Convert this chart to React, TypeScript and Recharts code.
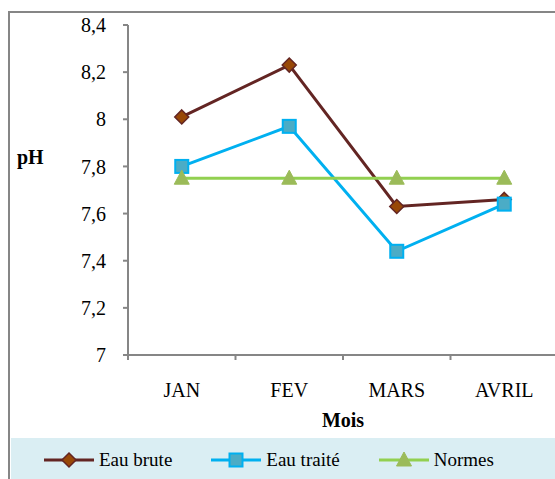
import { LineChart, Line, XAxis, YAxis, Legend } from 'recharts'

const months = ['JAN', 'FEV', 'MARS', 'AVRIL']
const eauBrute = [8.01, 8.23, 7.63, 7.66]
const eauTraite = [7.8, 7.97, 7.44, 7.64]
const normes = [7.75, 7.75, 7.75, 7.75]
const yTicks = [7, 7.2, 7.4, 7.6, 7.8, 8, 8.2, 8.4]

const data = months.map((m, i) => ({
  month: m,
  brute: eauBrute[i],
  traite: eauTraite[i],
  normes: normes[i],
}))

const W = 570
const H = 479
const LEFT = 128
const RIGHT = 12
const FONT = "Liberation Serif, DejaVu Serif, serif"
const AXIS = '#868686'
const HALF = (W - LEFT - RIGHT) / months.length / 2

const series = [
  { key: 'brute', name: 'Eau brute', color: '#632523', shape: 'diamond' },
  { key: 'traite', name: 'Eau traité', color: '#00B0F0', shape: 'square' },
  { key: 'normes', name: 'Normes', color: '#92D050', shape: 'triangle' },
]

function Marker({ cx, cy, shape }: { cx: number; cy: number; shape: string }) {
  if (shape === 'diamond')
    return (
      <polygon
        points={`${cx},${cy - 7} ${cx + 7},${cy} ${cx},${cy + 7} ${cx - 7},${cy}`}
        fill="#984807"
        stroke="#632523"
        strokeWidth={1.5}
      />
    )
  if (shape === 'square')
    return (
      <rect x={cx - 6.5} y={cy - 6.5} width={13} height={13} fill="#4BACC6" stroke="#00B0F0" strokeWidth={2} />
    )
  return (
    <polygon
      points={`${cx},${cy - 8} ${cx + 7.5},${cy + 6} ${cx - 7.5},${cy + 6}`}
      fill="#9BBB59"
      stroke="#9BBB59"
      strokeWidth={1}
    />
  )
}

function XTick(props: any) {
  const { x, y, payload, index } = props
  return (
    <g>
      <line x1={x - HALF} y1={y - 8} x2={x - HALF} y2={y - 3} stroke={AXIS} strokeWidth={2} />
      {index === months.length - 1 && (
        <line x1={x + HALF} y1={y - 8} x2={x + HALF} y2={y - 3} stroke={AXIS} strokeWidth={2} />
      )}
      <text x={x} y={y + 34} textAnchor="middle" fontSize={20} style={{ fontFamily: FONT }} fill="#000">
        {payload.value}
      </text>
    </g>
  )
}

function LegendBox() {
  return (
    <div style={{ display: 'flex', alignItems: 'center', height: 41, paddingLeft: 33, paddingTop: 2, boxSizing: 'border-box', fontFamily: FONT, fontSize: 19 }}>
      {series.map(s => (
        <div key={s.key} style={{ display: 'flex', alignItems: 'center', marginRight: 39 }}>
          <svg width={50} height={20}>
            <line x1={0} y1={10} x2={50} y2={10} stroke={s.color} strokeWidth={3} />
            <Marker cx={25} cy={10} shape={s.shape} />
          </svg>
          <span style={{ marginLeft: 5, color: '#000' }}>{s.name}</span>
        </div>
      ))}
    </div>
  )
}

export default function App() {
  return (
    <div style={{ position: 'fixed', left: 0, top: 0, width: 555, height: 479, overflow: 'hidden', background: '#fff', fontFamily: FONT }}>
      <div
        style={{
          position: 'absolute',
          left: 8,
          top: 11,
          width: 580,
          height: 500,
          border: `2.5px solid ${AXIS}`,
          boxSizing: 'border-box',
        }}
      />
      <div style={{ position: 'absolute', left: 0, top: 0 }}>
        <LineChart width={W} height={H} data={data} margin={{ top: 25, right: RIGHT, bottom: 64, left: 0 }}>
          <XAxis
            dataKey="month"
            scale="band"
            height={60}
            axisLine={{ stroke: AXIS, strokeWidth: 2 }}
            tickLine={false}
            tick={<XTick />}
            interval={0}
            label={{
              content: (p: any) => (
                <text
                  x={p.viewBox.x + p.viewBox.width / 2}
                  y={p.viewBox.y + 72}
                  textAnchor="middle"
                  fontSize={20}
                  fontWeight="bold"
                  style={{ fontFamily: FONT }}
                  fill="#000"
                >
                  Mois
                </text>
              ),
            }}
          />
          <YAxis
            width={LEFT}
            domain={[7, 8.4]}
            ticks={yTicks}
            interval={0}
            axisLine={{ stroke: AXIS, strokeWidth: 2 }}
            tickLine={{ stroke: AXIS, strokeWidth: 2 }}
            tickSize={5}
            tickMargin={17}
            tick={{ fill: '#000', fontSize: 20, style: { fontFamily: FONT } }}
            tickFormatter={(v: number) => String(v).replace('.', ',')}
            label={{
              content: () => (
                <text x={17} y={164} fontSize={20} fontWeight="bold" style={{ fontFamily: FONT }} fill="#000">
                  pH
                </text>
              ),
            }}
          />
          <Legend
            verticalAlign="middle"
            content={<LegendBox />}
            wrapperStyle={{ position: 'absolute', left: 11, top: 438, width: 560, height: 41, background: '#DAEEF3' }}
          />
          {series.map(s => (
            <Line
              key={s.key}
              dataKey={s.key}
              name={s.name}
              stroke={s.color}
              strokeWidth={3}
              isAnimationActive={false}
              dot={(p: any) => <Marker key={`${s.key}-${p.index}`} cx={p.cx} cy={p.cy} shape={s.shape} />}
              activeDot={false}
            />
          ))}
        </LineChart>
      </div>
    </div>
  )
}
